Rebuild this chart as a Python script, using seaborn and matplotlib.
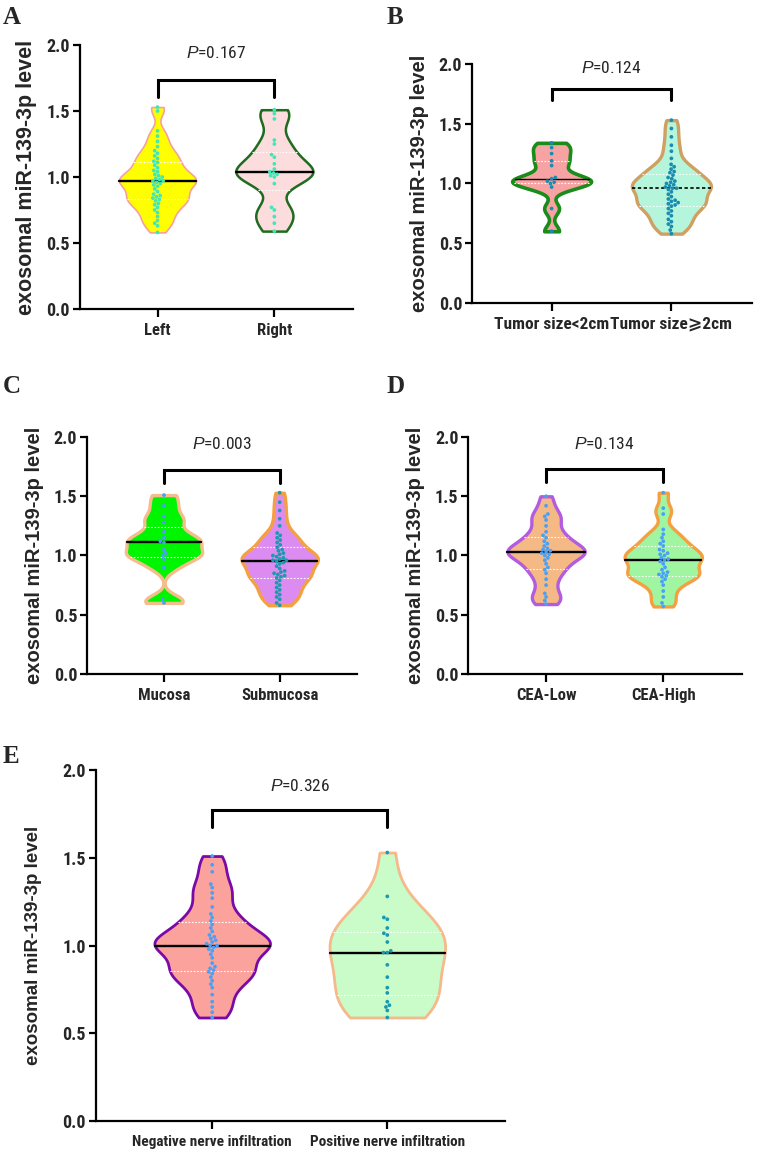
import matplotlib
matplotlib.use("Agg")
import numpy as np
import pandas as pd
import matplotlib.pyplot as plt
import seaborn as sns
from matplotlib import font_manager

# exosomal miR-139-3p level, values
left_side = [1.53, 1.50, 1.35, 1.31, 1.27, 1.23, 1.20, 1.18, 1.16, 1.14, 1.12, 1.11, 1.09,
             1.07, 1.05, 1.04, 1.02, 1.01, 1.00, 0.99, 0.98, 0.97, 0.97, 0.96, 0.95, 0.94,
             0.93, 0.91, 0.89, 0.87, 0.86, 0.85, 0.84, 0.83, 0.82, 0.80, 0.79, 0.77, 0.75,
             0.73, 0.70, 0.67, 0.65, 0.63, 0.58]
right_side = [1.51, 1.48, 1.44, 1.28, 1.25, 1.17, 1.15, 1.10, 1.06, 1.04, 1.03, 1.02,
              1.01, 1.00, 0.95, 0.77, 0.75, 0.70, 0.65, 0.59]
tumor_small = [1.34, 1.30, 1.25, 1.19, 1.15, 1.05, 1.04, 1.02, 1.01, 1.00, 0.97, 0.79, 0.60]
tumor_large = [1.53, 1.46, 1.39, 1.32, 1.27, 1.21, 1.16, 1.14, 1.12, 1.10, 1.09, 1.07, 1.05,
               1.04, 1.02, 1.01, 1.00, 0.99, 0.98, 0.97, 0.96, 0.96, 0.95, 0.93, 0.91, 0.89,
               0.87, 0.86, 0.85, 0.84, 0.83, 0.82, 0.81, 0.79, 0.77, 0.75, 0.73, 0.70, 0.68,
               0.66, 0.64, 0.61, 0.58]
mucosa = [1.51, 1.42, 1.33, 1.28, 1.20, 1.15, 1.12, 1.11, 1.05, 1.02, 1.00, 0.97, 0.90, 0.63, 0.60]
submucosa = [1.53, 1.45, 1.38, 1.31, 1.25, 1.19, 1.17, 1.15, 1.13, 1.11, 1.09, 1.07, 1.05,
             1.04, 1.02, 1.01, 1.00, 0.99, 0.98, 0.97, 0.96, 0.96, 0.95, 0.94, 0.93, 0.91,
             0.89, 0.87, 0.86, 0.85, 0.84, 0.83, 0.82, 0.81, 0.79, 0.77, 0.75, 0.73, 0.71,
             0.69, 0.67, 0.65, 0.63, 0.60, 0.58]
cea_low = [1.50, 1.42, 1.35, 1.33, 1.30, 1.25, 1.20, 1.17, 1.15, 1.12, 1.10, 1.08, 1.06,
           1.05, 1.04, 1.03, 1.02, 1.01, 1.00, 0.98, 0.96, 0.93, 0.90, 0.88, 0.85, 0.80,
           0.75, 0.68, 0.65, 0.62, 0.59]
cea_high = [1.53, 1.40, 1.35, 1.22, 1.18, 1.15, 1.12, 1.10, 1.08, 1.05, 1.04, 1.02, 1.01,
            1.00, 0.98, 0.97, 0.96, 0.95, 0.93, 0.90, 0.88, 0.86, 0.85, 0.84, 0.83, 0.82,
            0.80, 0.78, 0.75, 0.70, 0.65, 0.60, 0.57]
nerve_neg = [1.51, 1.46, 1.42, 1.35, 1.33, 1.30, 1.27, 1.22, 1.18, 1.16, 1.14, 1.12, 1.10,
             1.08, 1.06, 1.05, 1.04, 1.03, 1.02, 1.01, 1.00, 1.00, 0.99, 0.98, 0.97, 0.95,
             0.93, 0.90, 0.88, 0.87, 0.86, 0.85, 0.84, 0.82, 0.80, 0.78, 0.76, 0.72, 0.68,
             0.65, 0.62, 0.59]
nerve_pos = [1.53, 1.28, 1.16, 1.15, 1.10, 1.07, 1.06, 1.02, 0.97, 0.96, 0.96, 0.89, 0.82,
             0.76, 0.73, 0.68, 0.66, 0.65, 0.63, 0.59]

panel_letters = ["A", "B", "C", "D", "E"]
group_names = [["Left", "Right"],
               ["Tumor size<2cm", "Tumor size\u2a7e2cm"],
               ["Mucosa", "Submucosa"],
               ["CEA-Low", "CEA-High"],
               ["Negative nerve infiltration", "Positive nerve infiltration"]]
group_values = [[left_side, right_side], [tumor_small, tumor_large], [mucosa, submucosa],
                [cea_low, cea_high], [nerve_neg, nerve_pos]]
p_values = ["0.167", "0.124", "0.003", "0.134", "0.326"]

fill_colors = [["#ffff00", "#fcdcdc"], ["#f8a3a3", "#b4f5dc"], ["#00f500", "#dc8cf0"],
               ["#f5b985", "#a0f5a0"], ["#fca29c", "#c9fcc9"]]
edge_colors = [["#f7a0a0", "#1f6b1f"], ["#1a8c1a", "#cfa060"], ["#f5bc8c", "#f5a040"],
               ["#b45ce0", "#f5a040"], ["#7a0aa8", "#f5b98a"]]
dot_colors = [["#40e8b8", "#40e8b8"], ["#1a8cb0", "#1a8cb0"], ["#4aa0f5", "#1a9ab0"],
              ["#4aa0f5", "#4aa0f5"], ["#4aa0f5", "#1a9ab0"]]

# layout (figure fractions) and styling per panel
axes_boxes = [[0.105, 0.7325, 0.359, 0.2285], [0.621, 0.7377, 0.368, 0.2069],
              [0.1145, 0.4165, 0.3555, 0.2051], [0.616, 0.4165, 0.360, 0.2051],
              [0.126, 0.0294, 0.538, 0.3039]]
edge_widths = [[1.2, 1.8], [2.6, 2.4], [2.4, 2.4], [2.4, 2.4], [2.0, 2.0]]
bw_adjust = [[0.5, 0.55], [0.42, 0.55], [0.35, 0.55], [0.5, 0.5], [0.55, 1.05]]
bracket = [(1.61, 1.735), (1.70, 1.79), (1.61, 1.72), (1.62, 1.73), (1.675, 1.77)]
p_text_y = [1.94, 1.97, 1.94, 1.94, 1.91]
label_pos = [(0.004, 0.995), (0.509, 0.995), (0.004, 0.675), (0.509, 0.675), (0.004, 0.355)]
ylabel_size = [15.5, 14.5, 14.5, 14.5, 13.5]
xlabel_size = [12, 12.5, 12, 12, 11]


def have_font(name):
    try:
        font_manager.findfont(name, fallback_to_default=False)
        return True
    except ValueError:
        return False


narrow = next((f for f in ['Liberation Sans Narrow', 'Roboto Condensed', 'Open Sans Condensed']
               if have_font(f)), None)
tick_family = [narrow or 'Liberation Sans', 'DejaVu Sans']
shrink = 1.0 if narrow else 0.88

sns.set_style("ticks")
plt.rcParams['font.family'] = tick_family
plt.rcParams['mathtext.fontset'] = 'custom'
plt.rcParams['mathtext.it'] = 'Liberation Sans:italic'
plt.rcParams['mathtext.rm'] = 'Liberation Sans'

fig = plt.figure(figsize=(7.6, 11.55), dpi=100)

for k in range(5):
    ax = fig.add_axes(axes_boxes[k])
    names = group_names[k]
    df = pd.DataFrame({
        'group': np.repeat(names, [len(v) for v in group_values[k]]),
        'level': np.concatenate(group_values[k]),
    })
    for i, name in enumerate(names):
        n_coll = len(ax.collections)
        n_line = len(ax.lines)
        sns.violinplot(data=df[df['group'] == name], x='group', y='level', order=names,
                       color=fill_colors[k][i], linecolor=edge_colors[k][i],
                       linewidth=edge_widths[k][i], saturation=1, cut=0, width=0.66,
                       density_norm='width', bw_adjust=bw_adjust[k][i], inner='quart', ax=ax)
        for body in ax.collections[n_coll:]:
            body.set_edgecolor(edge_colors[k][i])
            body.set_linewidth(edge_widths[k][i])
        # white dotted quartiles, black median
        trio = sorted(ax.lines[n_line:], key=lambda l: np.mean(l.get_ydata()))
        for j, ln in enumerate(trio):
            if j == 1:
                ln.set_color('black')
                if k == 1 and i == 1:
                    ln.set_linestyle((0, (2, 1.5)))
                    ln.set_linewidth(1.2)
                elif k == 1:
                    ln.set_linestyle('-')
                    ln.set_linewidth(1.0)
                else:
                    ln.set_linestyle('-')
                    ln.set_linewidth(1.7)
            else:
                ln.set_color('white')
                ln.set_linestyle((0, (1.5, 1.5)))
                ln.set_linewidth(0.8)
            ln.set_zorder(3)
    sns.swarmplot(data=df, x='group', y='level', hue='group', order=names, hue_order=names,
                  palette=dot_colors[k], size=2.7, legend=False, ax=ax, zorder=4)

    # significance bracket
    lo, hi = bracket[k]
    ax.plot([0, 0, 1, 1], [lo, hi, hi, lo], color='black', lw=2.2, solid_joinstyle='miter',
            clip_on=False)
    ax.text(0.5, p_text_y[k], r'$P$=' + p_values[k], ha='center', va='center',
            fontsize=12.5, family=tick_family)

    ax.set_xlim(-0.665, 1.67)
    ax.set_ylim(0, 2.0)
    ax.set_yticks([0, 0.5, 1.0, 1.5, 2.0])
    ax.set_yticklabels(['0.0', '0.5', '1.0', '1.5', '2.0'])
    ax.set_xlabel('')
    ax.set_ylabel('exosomal miR-139-3p level', fontsize=ylabel_size[k],
                  fontweight='bold', family=['Liberation Sans', 'DejaVu Sans'],
                  labelpad=7 if k < 4 else 15)
    for s in ['top', 'right']:
        ax.spines[s].set_visible(False)
    for s in ['left', 'bottom']:
        ax.spines[s].set_linewidth(1.6)
        ax.spines[s].set_color('black')
    ax.tick_params(axis='both', width=1.6, color='black', direction='out')
    ax.tick_params(axis='y', length=5, pad=2, labelsize=13 * shrink)
    ax.tick_params(axis='x', length=6, pad=4, labelsize=xlabel_size[k] * shrink)
    for t in ax.get_xticklabels() + ax.get_yticklabels():
        t.set_fontweight('bold')

    fig.text(label_pos[k][0], label_pos[k][1], panel_letters[k], ha='left', va='top',
             fontsize=18, fontweight='bold', family=['Liberation Serif', 'DejaVu Serif'])

fig.savefig('out.png', dpi=100)
